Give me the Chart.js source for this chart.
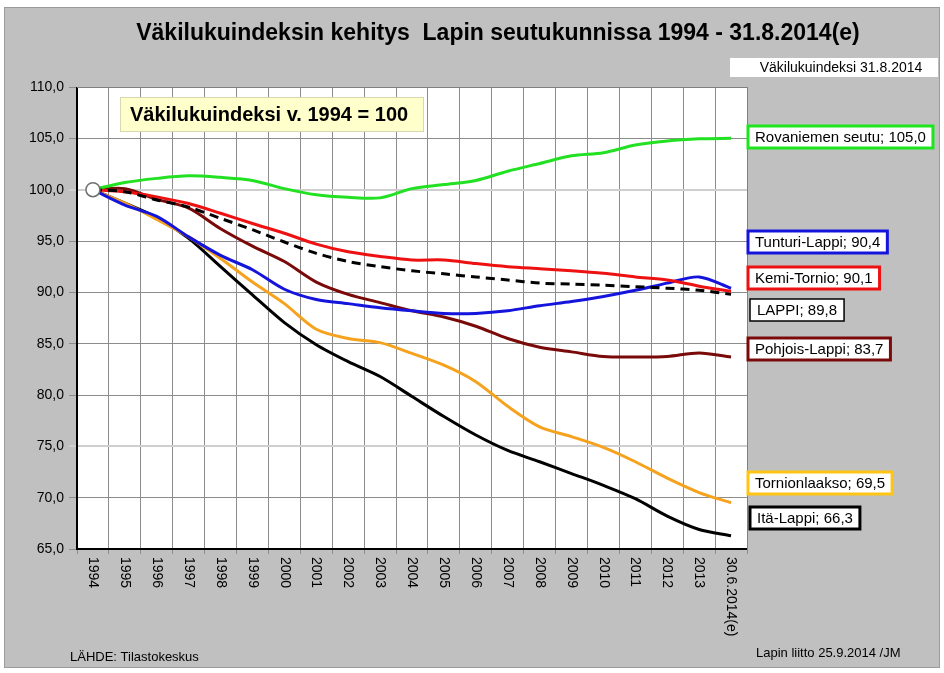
<!DOCTYPE html>
<html>
<head>
<meta charset="utf-8">
<script src="https://cdn.jsdelivr.net/npm/chart.js@4/dist/chart.umd.min.js"></script>
<style>
  html, body { margin: 0; padding: 0; background: #fff; }
  #wrap { width: 944px; height: 673px; }
</style>
</head>
<body>
<div id="wrap"><canvas id="chartCanvas" width="944" height="673"></canvas></div>
<script>
const years = ['1994','1995','1996','1997','1998','1999','2000','2001','2002','2003','2004',
  '2005','2006','2007','2008','2009','2010','2011','2012','2013','30.6.2014(e)'];

const lappi       = [100, 99.8, 99.0, 98.3, 97.2, 96.1, 94.9, 93.8, 93.0, 92.5, 92.1, 91.8, 91.5, 91.2, 90.9, 90.8, 90.7, 90.55, 90.4, 90.2, 89.8];
const rovaniemi   = [100, 100.7, 101.1, 101.35, 101.2, 100.9, 100.1, 99.5, 99.25, 99.2, 100.1, 100.5, 100.9, 101.8, 102.55, 103.3, 103.6, 104.35, 104.75, 104.95, 105.0];
const kemiTornio  = [100, 99.8, 99.3, 98.65, 97.7, 96.7, 95.75, 94.7, 93.95, 93.5, 93.15, 93.15, 92.8, 92.5, 92.3, 92.1, 91.85, 91.5, 91.2, 90.6, 90.1];
const tunturi     = [100, 98.5, 97.4, 95.4, 93.6, 92.2, 90.3, 89.3, 88.9, 88.5, 88.2, 87.95, 87.95, 88.2, 88.7, 89.1, 89.6, 90.2, 90.9, 91.5, 90.4];
const pohjois     = [100, 100.1, 99.05, 98.2, 96.2, 94.5, 93.0, 91.0, 89.8, 89.0, 88.2, 87.6, 86.7, 85.5, 84.65, 84.2, 83.75, 83.7, 83.75, 84.1, 83.7];
const tornionl    = [100, 98.7, 97.1, 95.4, 93.3, 91.0, 88.9, 86.4, 85.5, 85.1, 84.05, 82.9, 81.3, 78.9, 76.9, 75.95, 74.9, 73.5, 71.9, 70.5, 69.5];
const itaLappi    = [100, 98.7, 97.3, 95.25, 92.5, 89.75, 87.05, 84.9, 83.25, 81.8, 79.85, 77.9, 76.1, 74.6, 73.5, 72.35, 71.2, 69.9, 68.2, 66.9, 66.3];

const seriesNames = ['LAPPI', 'Rovaniemen seutu', 'Kemi-Tornio', 'Tunturi-Lappi', 'Pohjois-Lappi', 'Tornionlaakso', 'Itä-Lappi'];

const FONT = '"Liberation Sans", Arial, sans-serif';
const colors = {
  lappi: '#000000', rovaniemi: '#22e022', kemi: '#ee1111', tunturi: '#1414dd',
  pohjois: '#7a0a0a', tornion: '#f5a21e', ita: '#000000'
};

// label boxes at the right: [text, border colour, border width, centre y, left x]
const endLabels = [
  ['Rovaniemen seutu; 105,0', '#1ee61e', 3, 137, 748],
  ['Tunturi-Lappi; 90,4', '#1414dd', 3, 242, 748],
  ['Kemi-Tornio; 90,1', '#ee1111', 3, 278, 748],
  ['LAPPI; 89,8', '#000000', 1.5, 310, 750],
  ['Pohjois-Lappi; 83,7', '#7a0a0a', 3, 349, 748],
  ['Tornionlaakso; 69,5', '#ffc414', 3, 483, 748],
  ['Itä-Lappi; 66,3', '#000000', 3, 518, 750]
];

function fmt(v) {
  return v.toFixed(1).replace('.', ',');
}

const panelPlugin = {
  id: 'panel',
  beforeDraw(chart) {
    const c = chart.ctx;
    const a = chart.chartArea;
    c.save();
    c.fillStyle = '#ffffff';
    c.fillRect(0, 0, chart.width, chart.height);
    c.fillStyle = '#c0c0c0';
    c.fillRect(4, 7, 936, 661);
    c.strokeStyle = '#9a9a9a';
    c.lineWidth = 1;
    c.strokeRect(4.5, 7.5, 935, 660);
    c.fillStyle = '#ffffff';
    c.fillRect(a.left, a.top, a.right - a.left, a.bottom - a.top);
    c.restore();
  },
  afterDraw(chart) {
    const c = chart.ctx;
    const a = chart.chartArea;
    const xs = chart.scales.x;
    c.save();

    // frame of the plot area
    c.strokeStyle = '#000';
    c.lineWidth = 2;
    c.beginPath();
    c.moveTo(a.left, a.top);
    c.lineTo(a.left, a.bottom);
    c.lineTo(a.right, a.bottom);
    c.stroke();
    c.strokeStyle = '#808080';
    c.lineWidth = 1;
    c.beginPath();
    c.moveTo(a.left, a.top + 0.5);
    c.lineTo(a.right + 0.5, a.top + 0.5);
    c.lineTo(a.right + 0.5, a.bottom);
    c.stroke();

    // title
    c.fillStyle = '#000';
    c.textAlign = 'center';
    c.textBaseline = 'middle';
    c.font = 'bold 23px ' + FONT;
    c.fillText('Väkilukuindeksin kehitys  Lapin seutukunnissa 1994 - 31.8.2014(e)', 498, 34);

    // small white box top right
    c.fillStyle = '#fff';
    c.fillRect(730, 58, 208, 19);
    c.fillStyle = '#000';
    c.font = '14px ' + FONT;
    c.fillText('Väkilukuindeksi 31.8.2014', 841, 68);

    // base year note
    c.fillStyle = '#ffffcc';
    c.fillRect(120, 97, 304, 35);
    c.strokeStyle = '#d8d8b0';
    c.lineWidth = 1;
    c.strokeRect(120.5, 97.5, 303, 34);
    c.fillStyle = '#000';
    c.font = 'bold 20px ' + FONT;
    c.textAlign = 'left';
    c.fillText('Väkilukuindeksi v. 1994 = 100', 130, 115);

    // x labels, rotated to read downwards
    c.font = '14px ' + FONT;
    c.textBaseline = 'middle';
    years.forEach((y, i) => {
      const px = xs.getPixelForValue(i);
      c.save();
      c.translate(px, a.bottom + 8);
      c.rotate(Math.PI / 2);
      c.fillText(y, 0, 0);
      c.restore();
    });

    // end labels
    c.font = '15px ' + FONT;
    endLabels.forEach(([txt, col, lw, cy, lx]) => {
      const w = c.measureText(txt).width + 14;
      c.fillStyle = '#fff';
      c.fillRect(lx, cy - 11, w, 22);
      c.strokeStyle = col;
      c.lineWidth = lw;
      c.strokeRect(lx, cy - 11, w, 22);
      c.fillStyle = '#000';
      c.fillText(txt, lx + 7, cy + 1);
    });

    // sources
    c.font = '13px ' + FONT;
    c.fillText('LÄHDE: Tilastokeskus', 70, 657);
    c.fillText('Lapin liitto 25.9.2014 /JM', 756, 653);
    c.restore();
  }
};

function lineSet(label, data, color, extra) {
  return Object.assign({
    label: label,
    data: data,
    borderColor: color,
    backgroundColor: color,
    borderWidth: 3,
    pointRadius: 0,
    tension: 0.3,
    fill: false
  }, extra || {});
}

const ctx = document.getElementById('chartCanvas').getContext('2d');
const chart = new Chart(ctx, {
  type: 'line',
  data: {
    labels: years,
    datasets: [
      lineSet(seriesNames[0], lappi, colors.lappi, {
        borderDash: [9, 6],
        pointRadius: (p) => p.dataIndex === 0 ? 7 : 0,
        pointBackgroundColor: '#ffffff',
        pointBorderColor: '#707070',
        pointBorderWidth: 1.5
      }),
      lineSet(seriesNames[1], rovaniemi, colors.rovaniemi),
      lineSet(seriesNames[2], kemiTornio, colors.kemi),
      lineSet(seriesNames[3], tunturi, colors.tunturi),
      lineSet(seriesNames[4], pohjois, colors.pohjois),
      lineSet(seriesNames[5], tornionl, colors.tornion),
      lineSet(seriesNames[6], itaLappi, colors.ita)
    ]
  },
  options: {
    responsive: false,
    animation: false,
    layout: { padding: { left: 10, top: 87, right: 197, bottom: 10 } },
    plugins: {
      legend: { display: false },
      tooltip: { enabled: false },
      title: { display: false }
    },
    scales: {
      x: {
        offset: true,
        grid: {
          offset: true,
          color: '#8c8c8c',
          lineWidth: 1,
          tickLength: 5,
          drawTicks: true
        },
        border: { display: false },
        ticks: { display: false },
        afterFit(scale) { scale.height = 114; }
      },
      y: {
        min: 65,
        max: 110,
        grid: {
          color: (g) => (g.tick && (g.tick.value === 100 || g.tick.value === 75)) ? '#cfcfcf' : '#8c8c8c',
          lineWidth: (g) => (g.tick && (g.tick.value === 100 || g.tick.value === 75)) ? 2 : 1,
          tickLength: 8
        },
        border: { display: false },
        ticks: {
          stepSize: 5,
          color: '#000',
          padding: 5,
          font: { family: FONT, size: 14 },
          callback: (v) => fmt(v)
        },
        afterFit(scale) { scale.width = 67; }
      }
    }
  },
  plugins: [panelPlugin]
});
</script>
</body>
</html>
